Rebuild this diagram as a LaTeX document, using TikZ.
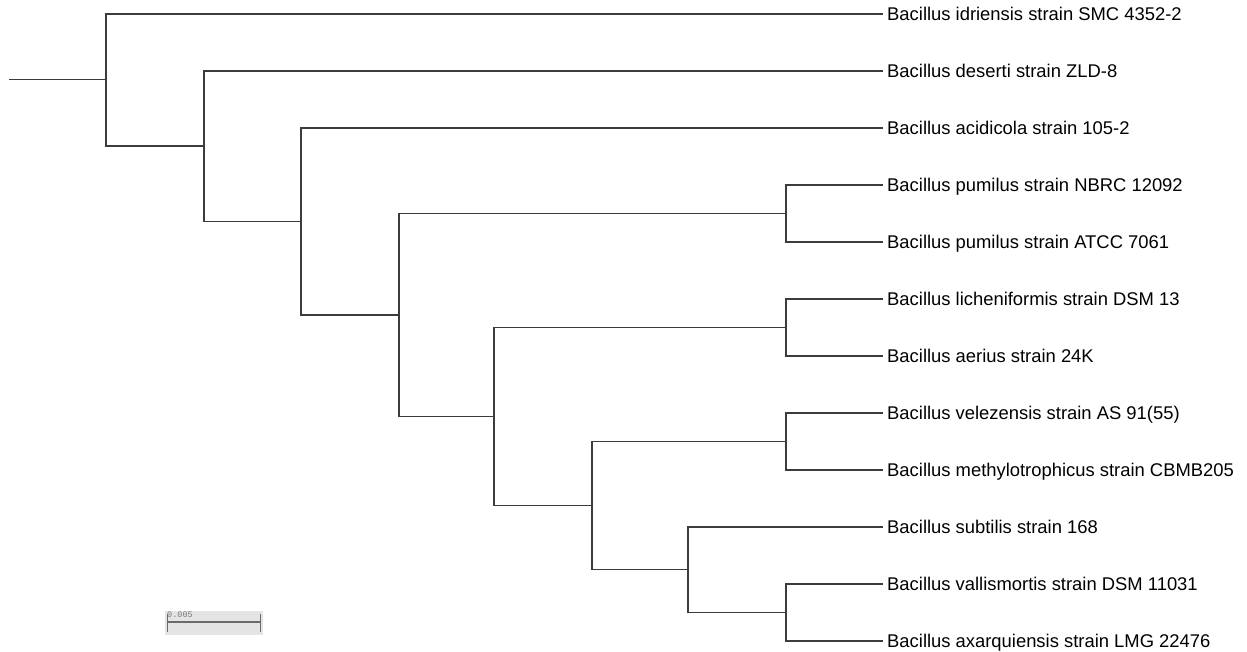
\documentclass[tikz,border=0pt]{standalone}
\usepackage{fontspec}
\setmainfont{Liberation Sans}
\newfontfamily\monofnt{Liberation Mono}
\definecolor{branch}{HTML}{3C3C3C}
\definecolor{barbg}{HTML}{E4E4E4}
\definecolor{bartext}{HTML}{7A7A7A}
\definecolor{barline}{HTML}{6A6A6A}
\begin{document}
\begin{tikzpicture}[x=1pt,y=-1pt,
  branchline/.style={draw=branch,line width=1.1pt},
  leaf/.style={anchor=west,inner xsep=4pt,inner ysep=0pt,text height=12.5pt,text depth=0pt,font=\fontsize{18.4}{20}\selectfont},
]
\useasboundingbox (0,0) rectangle (1247,652);
% leaves
\node[leaf] (l1)  at (883,14)  {Bacillus idriensis strain SMC 4352-2};
\node[leaf] (l2)  at (883,71)  {Bacillus deserti strain ZLD-8};
\node[leaf] (l3)  at (883,128) {Bacillus acidicola strain 105-2};
\node[leaf] (l4)  at (883,185) {Bacillus pumilus strain NBRC 12092};
\node[leaf] (l5)  at (883,242) {Bacillus pumilus strain ATCC 7061};
\node[leaf] (l6)  at (883,299) {Bacillus licheniformis strain DSM 13};
\node[leaf] (l7)  at (883,356) {Bacillus aerius strain 24K};
\node[leaf] (l8)  at (883,413) {Bacillus velezensis strain AS 91(55)};
\node[leaf] (l9)  at (883,470) {Bacillus methylotrophicus strain CBMB205};
\node[leaf] (l10) at (883,527) {Bacillus subtilis strain 168};
\node[leaf] (l11) at (883,584) {Bacillus vallismortis strain DSM 11031};
\node[leaf] (l12) at (883,641) {Bacillus axarquiensis strain LMG 22476};
% internal nodes
\coordinate (root) at (9,79.5);
\coordinate (n1)  at (106,79.5);
\coordinate (n2)  at (204,146);
\coordinate (n3)  at (301,221.5);
\coordinate (n4)  at (399,315);
\coordinate (n5)  at (786,213.5);
\coordinate (n6)  at (494,416.5);
\coordinate (n7)  at (786,327.5);
\coordinate (n8)  at (592,505.5);
\coordinate (n9)  at (786,441.5);
\coordinate (n10) at (688,569.75);
\coordinate (n11) at (786,612.5);
% branches
\draw[branchline] (root) -- (n1);
\draw[branchline] (n1) |- (l1.west);
\draw[branchline] (n1) |- (n2);
\draw[branchline] (n2) |- (l2.west);
\draw[branchline] (n2) |- (n3);
\draw[branchline] (n3) |- (l3.west);
\draw[branchline] (n3) |- (n4);
\draw[branchline] (n4) |- (n5);
\draw[branchline] (n4) |- (n6);
\draw[branchline] (n5) |- (l4.west);
\draw[branchline] (n5) |- (l5.west);
\draw[branchline] (n6) |- (n7);
\draw[branchline] (n6) |- (n8);
\draw[branchline] (n7) |- (l6.west);
\draw[branchline] (n7) |- (l7.west);
\draw[branchline] (n8) |- (n9);
\draw[branchline] (n8) |- (n10);
\draw[branchline] (n9) |- (l8.west);
\draw[branchline] (n9) |- (l9.west);
\draw[branchline] (n10) |- (l10.west);
\draw[branchline] (n10) |- (n11);
\draw[branchline] (n11) |- (l11.west);
\draw[branchline] (n11) |- (l12.west);
% scale bar
\node[fill=barbg,minimum width=98pt,minimum height=24pt,inner sep=0pt,anchor=north west] (sbox) at (165,611) {};
\node[anchor=north west,inner sep=0pt,text=bartext,font=\monofnt\fontsize{8.5}{9}\selectfont] (slabel) at (167,612) {0.005};
\coordinate (sa) at (167,622);
\coordinate (sb) at (260,622);
\draw[barline,line width=1.2pt] (sa) -- (sb);
\draw[barline,line width=0.9pt] ([yshift=-10pt]sa) -- ([yshift=8pt]sa);
\draw[barline,line width=0.9pt] ([yshift=-10pt]sb) -- ([yshift=8pt]sb);
\end{tikzpicture}
\end{document}
